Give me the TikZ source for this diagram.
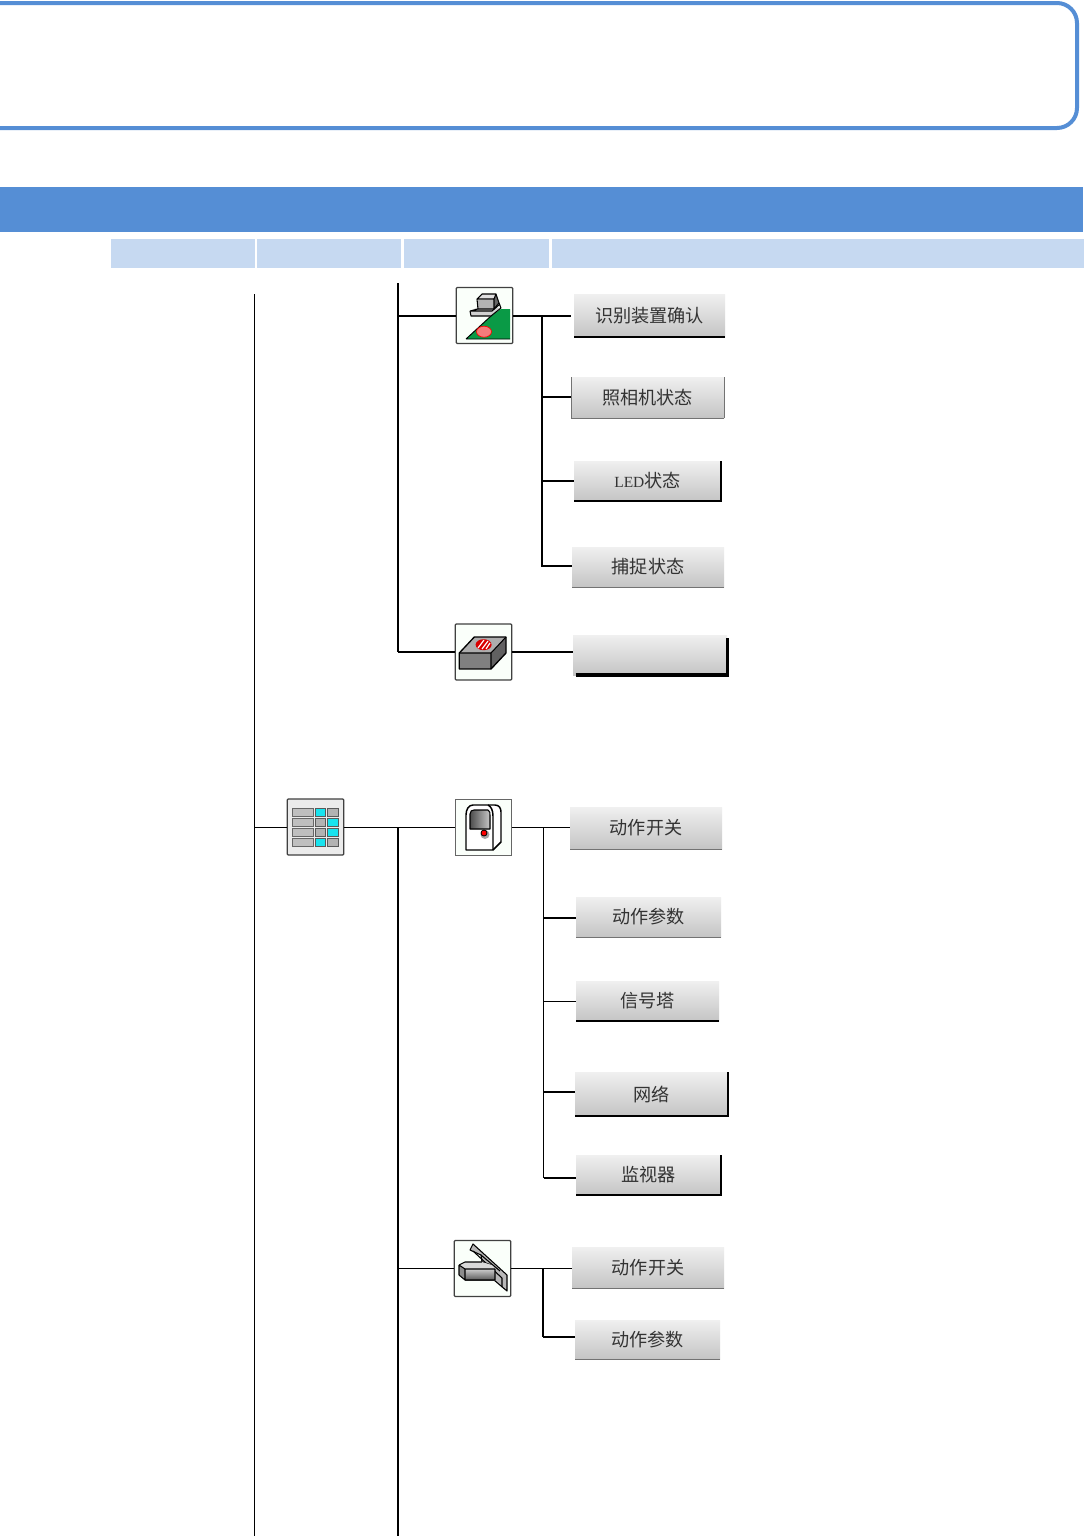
\documentclass[tikz,border=0pt]{standalone}
\usepackage{fontspec}
\setmainfont{Noto Sans CJK SC}
\newfontfamily\ledfont{Liberation Serif}
\definecolor{hdblue}{HTML}{558ED5}
\definecolor{subblue}{HTML}{C6D9F1}
\definecolor{icongreen}{HTML}{0A9A46}
\definecolor{iconred}{HTML}{F25A5A}
\definecolor{iconcyan}{HTML}{19E3EE}
\tikzset{
  x=0.75pt,y=-0.75pt,
  subhead/.style={fill=subblue,draw=none},
  btnbox/.style={rectangle,inner sep=0pt,outer sep=0pt,top color=black!6,bottom color=black!23,font=\fontsize{13.6pt}{15pt}\selectfont,text=black!80},
  iconbox/.style={rectangle,inner sep=0pt,outer sep=0pt,minimum width=42.5pt,minimum height=42pt,draw=black!75,line width=0.9pt,rounded corners=0.8pt,fill=green!2!white},
  link/.style={draw=black,line width=0.85pt},
  linkthick/.style={draw=black,line width=1.35pt},
  edgedark/.style={draw=black,line width=1.35pt},
  edgeblack/.style={draw=black,line width=2.4pt},
  edgegrey/.style={draw=black!55,line width=0.75pt},
  ico/.style={draw=black,line width=0.8pt,line join=round},
}
\newcommand{\btn}[6]{% name, x1, y1, x2, y2, text
  \pgfmathsetmacro{\bw}{(#4-#2)*0.75}\pgfmathsetmacro{\bh}{(#5-#3)*0.75}
  \node[btnbox,minimum width=\bw pt,minimum height=\bh pt] (#1) at ({(#2+#4)/2},{(#3+#5)/2}) {#6};
}
\begin{document}
\begin{tikzpicture}
\useasboundingbox (0,0) rectangle (1084,1536);
\fill[white] (0,0) rectangle (1084,1536);
% header
\begin{scope}
\clip (0,0) rectangle (1084,1536);
\draw[hdblue,line width=3pt,rounded corners=15pt] (-30,3) -- (1077,3) -- (1077,128) -- (-30,128);
\end{scope}
\fill[hdblue] (0,187) rectangle (1083,232);
\fill[subhead] (111,239) rectangle (255.4,268);
\fill[subhead] (257.4,239) rectangle (401.4,268);
\fill[subhead] (404,239) rectangle (549,268);
\fill[subhead] (551.5,239) rectangle (1084,268);

% icons
\node[iconbox] (i1) at (484.5,315.5) {};
\node[iconbox] (i2) at (483.5,652) {};
\node[iconbox,fill=black!8] (i3) at (315.5,827) {};
\node[iconbox,draw=black!60,line width=0.6pt,rounded corners=0pt] (i4) at (483.5,827) {};
\node[iconbox] (i5) at (482.5,1268.5) {};

% icon 1
\begin{scope}[shift={(456,287)}]
\fill[icongreen] (10,52) -- (35,29) -- (45,22) -- (54,22) -- (54,52) -- cycle;
\draw[black,line width=0.7pt] (10,52) -- (35,29) (10,52) -- (54,52);
\fill[iconred!80!white] (28,44.7) ellipse [x radius=7.5,y radius=5.5];
\draw[red,line width=0.5pt] (28,44.7) ellipse [x radius=7.5,y radius=5.5];
\fill[black!18] (14,24) -- (22,20) -- (38,20) -- (45,21) -- (35,29) -- (15,29) -- cycle;
\draw[ico] (14,24) -- (15,29) -- (35,29) -- (45,21) -- (43,16) (14,24) -- (22,22) (14,24) -- (36,24) -- (44,17);
\fill[black!30] (22,13) rectangle (38,22);
\fill[black!12] (21,12) -- (26,7) -- (40,7) -- (38,13) -- cycle;
\fill[black!60] (38,13) -- (40,7) -- (43,16) -- (38,22) -- cycle;
\draw[ico] (22,22) -- (21,12) -- (26,7) -- (40,7) -- (43,16) -- (38,22) -- (22,22) (21,12) -- (38,12) -- (40,7) (38,12) -- (38,22);
\end{scope}
% icon 2
\begin{scope}[shift={(455,624)}]
\fill[black!50] (4.3,29) rectangle (36,45);
\fill[black!32] (4.3,29) -- (19.3,13) -- (51,13) -- (36,29) -- cycle;
\fill[black!62] (36,29) -- (51,13) -- (51,29) -- (36,45) -- cycle;
\draw[ico,line width=1pt] (4.3,29) -- (19.3,13) -- (51,13) -- (51,29) -- (36,45) -- (4.3,45) -- cycle;
\draw[ico] (4.3,29) -- (36,29) -- (51,13) (36,29) -- (36,45);
\fill[red!85!black] (28.6,20.7) ellipse [x radius=8,y radius=5.5];
\draw[white,line width=0.9pt] (23,24) -- (29,16) (27,25) -- (33,17) (31,25) -- (35,19);
\end{scope}
% icon 3
\begin{scope}[shift={(287,799)}]
\foreach \yy in {9,19,29,39}{
  \fill[black!25] (5.4,\yy) rectangle ++(21.3,8.4);
  \draw[black!60,line width=0.5pt] (5.4,\yy) rectangle ++(21.3,8.4);
}
\foreach \yy/\ca/\cb in {9/iconcyan/black!30,19/black!30/iconcyan,29/black!30/iconcyan,39/iconcyan/black!30}{
  \fill[\ca] (28.7,\yy) rectangle ++(10,8.4);
  \draw[black!65,line width=0.6pt] (28.7,\yy) rectangle ++(10,8.4);
  \fill[\cb] (40,\yy) rectangle ++(11,8.4);
  \draw[black!65,line width=0.6pt] (40,\yy) rectangle ++(11,8.4);
}
\end{scope}
% icon 4
\begin{scope}[shift={(455,799)}]
\fill[white] (11,51) -- (11,16) .. controls (11,10) and (14,6) .. (18,6) -- (40,6) .. controls (44,6) and (46,9) .. (46,13) -- (46,43) -- (38,51) -- cycle;
\fill[left color=black!70,right color=black!22] (15,30) -- (15,15) .. controls (15,12) and (17,11) .. (19,11) -- (33,11) .. controls (35,12) and (35,14) .. (35,16) -- (35,30) -- cycle;
\draw[ico,line width=1.1pt] (11,51) -- (11,16) .. controls (11,10) and (14,6) .. (18,6) -- (40,6) .. controls (44,6) and (46,9) .. (46,13) -- (46,43) -- (38,51) -- cycle;
\draw[ico] (15,30) -- (15,15) .. controls (15,12) and (17,11) .. (19,11) -- (33,11) .. controls (35,12) and (35,14) .. (35,16) -- (35,30) -- cycle;
\draw[ico,line width=1.1pt] (38,51) -- (38,17) .. controls (38,11) and (36,7.5) .. (33,6);
\fill[black!35] (30,35.5) circle (4.5);
\fill[red] (29,34) circle (3);
\draw[black,line width=0.6pt] (29,34) circle (3);
\end{scope}
% icon 5
\begin{scope}[shift={(454,1240)}]
\fill[black!28] (16,10) -- (19,4) -- (53,35) -- (53,51) -- (40,40) -- (38,25) -- (28,22) -- (27,15) -- cycle;
\draw[ico] (16,10) -- (19,4) -- (53,35) -- (53,51) -- (40,40) -- (38,25) -- (28,22) -- (27,15) -- cycle;
\draw[ico] (19,11) -- (48,38) -- (48,47) (27,15) -- (46,31);
\fill[black!15] (5,25) -- (11,22) -- (28,22) -- (38,25) -- (41,29) -- (11,29) -- cycle;
\fill[top color=black!20,bottom color=black!65] (11,29) rectangle (41,40);
\fill[black!45] (5,25) -- (11,29) -- (11,40) -- (5,35) -- cycle;
\draw[ico] (5,25) -- (11,22) -- (28,22) (5,25) -- (11,29) -- (41,29) (11,29) -- (11,40) -- (41,40) -- (41,29) (5,25) -- (5,35) -- (11,40);
\end{scope}

% buttons
\btn{b1}{574}{294}{725}{337}{识别装置确认}
\btn{b2}{571}{377}{724}{418}{照相机状态}
\btn{b3}{574}{461}{721}{501}{{\ledfont\fontsize{11.6pt}{14pt}\selectfont LED}状态}
\btn{b4}{572}{547}{724}{587}{捕捉状态}
\btn{b5}{573}{635}{727}{675}{}
\btn{b6}{570}{807}{722}{849}{动作开关}
\btn{b7}{576}{897}{721}{937}{动作参数}
\btn{b8}{576}{981}{719}{1021}{信号塔}
\btn{b9}{575}{1072}{728}{1116}{网络}
\btn{b10}{576}{1155}{721}{1195}{监视器}
\btn{b11}{572}{1247}{724}{1288}{动作开关}
\btn{b12}{575}{1320}{720}{1359}{动作参数}

% button edges
\draw[edgedark] (b1.south west) -- (b1.south east);
\draw[edgegrey] (b2.north west) -- (b2.south west) (b2.north east) -- (b2.south east);
\draw[edgegrey] (b2.south west) -- (b2.south east);
\draw[edgedark] (b3.south west) -- (b3.south east) -- (b3.north east);
\draw[edgegrey] (b4.south west) -- (b4.south east);
\draw[edgeblack] ([xshift=2pt]b5.south west) -- ([xshift=0.6pt]b5.south east) -- ([xshift=0.6pt,yshift=-2pt]b5.north east);
\draw[edgegrey] (b6.south west) -- (b6.south east);
\draw[edgegrey] (b7.south west) -- (b7.south east);
\draw[edgedark] (b8.south west) -- (b8.south east);
\draw[edgedark] (b9.south west) -- (b9.south east) -- (b9.north east);
\draw[edgedark] (b10.south west) -- (b10.south east) -- (b10.north east);
\draw[edgegrey] (b11.south west) -- (b11.south east);
\draw[edgegrey] (b12.south west) -- (b12.south east);

% free ends and junctions
\coordinate (t0a) at (254.5,294);
\coordinate (t0b) at (254.5,1536);
\coordinate (t1a) at (398,283);
\coordinate (t1b) at (398,652);
\coordinate (t2a) at (398,827);
\coordinate (t2b) at (398,1536);
\coordinate (r1) at (0,316);
\coordinate (r2) at (0,397);
\coordinate (r3) at (0,481);
\coordinate (r4) at (0,566);
\coordinate (r5) at (0,652);
\coordinate (r6) at (0,827.5);
\coordinate (r7) at (0,918);
\coordinate (r8) at (0,1001.5);
\coordinate (r9) at (0,1092);
\coordinate (r10) at (0,1178);
\coordinate (r11) at (0,1268.5);
\coordinate (r12) at (0,1337);
\coordinate (x1) at (542,0);
\coordinate (x2) at (543.5,0);
\coordinate (x3) at (543,0);

% connectors
\draw[link] (t0a) -- (t0b);
\draw[linkthick] (t1a) -- (t1b);
\draw[linkthick] (t2a) -- (t2b);
\draw[linkthick] (t1a |- r1) -- (i1.west |- r1);
\draw[linkthick] (i1.east |- r1) -- ([xshift=-2pt]b1.west |- r1);
\draw[linkthick] (x1 |- r1) -- (x1 |- r4) -- (b4.west |- r4);
\draw[link] (x1 |- r2) -- (b2.west |- r2);
\draw[link] (x1 |- r3) -- (b3.west |- r3);
\draw[link] (t1b) -- (i2.west |- t1b);
\draw[link] (i2.east |- r5) -- (b5.west |- r5);
\draw[link] (t0a |- r6) -- (i3.west |- r6);
\draw[link] (i3.east |- r6) -- (i4.west |- r6);
\draw[link] (i4.east |- r6) -- (b6.west |- r6);
\draw[link] (x2 |- r6) -- (x2 |- r10);
\draw[linkthick] (x2 |- r7) -- (b7.west |- r7);
\draw[linkthick] (x2 |- r8) -- (b8.west |- r8);
\draw[linkthick] (x2 |- r9) -- (b9.west |- r9);
\draw[linkthick] (x2 |- r10) -- (b10.west |- r10);
\draw[link] (t2a |- r11) -- (i5.west |- r11);
\draw[linkthick] (i5.east |- r11) -- (x3 |- r11);
\draw[link] (x3 |- r11) -- (b11.west |- r11);
\draw[link] (x3 |- r11) -- (x3 |- r12);
\draw[linkthick] (x3 |- r12) -- (b12.west |- r12);
\end{tikzpicture}
\end{document}
